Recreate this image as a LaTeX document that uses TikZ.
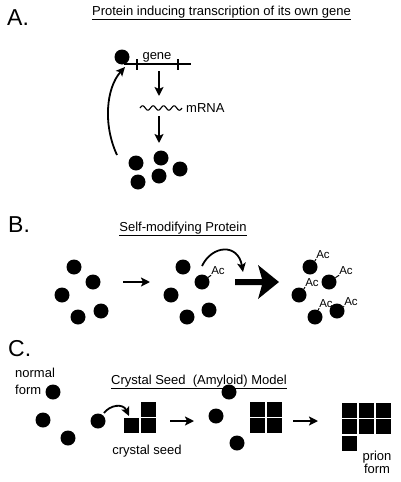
\documentclass[tikz,border=0pt]{standalone}
\usepackage{fontspec}
\setmainfont{Liberation Sans}
\usetikzlibrary{arrows.meta}
\begin{document}
\begin{tikzpicture}[x=1pt,y=-1pt,
 dot/.style={circle,fill=black,inner sep=0pt,minimum size=15pt},
 sq/.style={rectangle,fill=black,inner sep=0pt,minimum size=15pt},
 txt/.style={inner sep=0pt,font=\fontsize{13}{15}\selectfont},
 big/.style={inner sep=0pt,font=\fontsize{23}{26}\selectfont},
 ac/.style={inner sep=0pt,font=\fontsize{11.5}{13}\selectfont},
 arr/.style={-{Stealth[length=9pt,width=9pt,inset=2pt]},line width=2pt},
 carr/.style={-{Stealth[length=9pt,width=8.5pt,inset=2pt]},line width=1.8pt},
 bond/.style={line width=1pt},
 tick/.style={line width=1.8pt}]
\useasboundingbox[fill=white] (0,0) rectangle (400,482);

% ---------- A ----------
\node[big,anchor=base west] (la) at (7,25) {A.};
\node[txt,anchor=base] (ta) at (221.5,15) {\underline{Protein inducing transcription of its own gene}};
\node[dot] (pa) at (122,57) {};
\coordinate (gs) at (124,64);
\coordinate (ge) at (191,64);
\draw[tick] (gs) -- (ge);
\draw[tick] (137,59) coordinate (t1a) -- (137,70) coordinate (t1b);
\draw[tick] (178,59) coordinate (t2a) -- (178,70) coordinate (t2b);
\node[txt,anchor=base] (gene) at (157,59) {gene};
\coordinate (a1s) at (159,71);
\coordinate (a1e) at (159,96);
\draw[arr] (a1s) -- (a1e);
\draw[line width=1.1pt] plot[domain=0:42,samples=100,smooth] ({140+\x},{108-2.2*sin(\x*360/10.5)});
\node[txt,anchor=base west] (mrna) at (186,112) {mRNA};
\coordinate (a2s) at (159,116);
\coordinate (a2e) at (159,143);
\draw[arr] (a2s) -- (a2e);
\node[dot] (pa1) at (136,163) {};
\node[dot] (pa2) at (161,158) {};
\node[dot] (pa3) at (180,169) {};
\node[dot] (pa4) at (159,176) {};
\node[dot] (pa5) at (138,182) {};
\coordinate (fbs) at (117,155);
\coordinate (fbe) at (125,67);
\draw[carr] (fbs) .. controls (103,125) and (106,88) .. (fbe);

% ---------- B ----------
\node[big,anchor=base west] (lb) at (8,232.5) {B.};
\node[txt,anchor=base] (tb) at (183,231) {\underline{Self-modifying Protein}};
\node[dot] (b11) at (74,267) {};
\node[dot] (b12) at (93,282) {};
\node[dot] (b13) at (62,295) {};
\node[dot] (b14) at (78,317) {};
\node[dot] (b15) at (101,311) {};
\coordinate (ab1s) at (123,282);
\coordinate (ab1e) at (150,282);
\draw[arr] (ab1s) -- (ab1e);
\node[dot] (b21) at (183,267) {};
\node[dot] (b22) at (202,282) {};
\node[dot] (b23) at (171,295) {};
\node[dot] (b24) at (187,317) {};
\node[dot] (b25) at (209,310) {};
\node[ac] (ac2) at (218,271) {Ac};
\draw[bond] (b22) -- (ac2.south west);
\coordinate (cbs) at (202,266);
\coordinate (cbe) at (243,272);
\draw[carr] (cbs) .. controls (212,245) and (238,243) .. (cbe);
\fill (235,279) -- (262,279) -- (258,265) -- (279,282) -- (258,299) -- (262,285) -- (235,285) -- cycle;
\node[dot] (b31) at (310,267) {};
\node[dot] (b32) at (329,282) {};
\node[dot] (b33) at (299,295) {};
\node[dot] (b34) at (315,317) {};
\node[dot] (b35) at (337,311) {};
\node[ac] (ac31) at (323,255) {Ac};
\node[ac] (ac32) at (346,271) {Ac};
\node[ac] (ac33) at (312,283) {Ac};
\node[ac] (ac34) at (326,304) {Ac};
\node[ac] (ac35) at (351,302) {Ac};
\draw[bond] (b31) -- (ac31.south west);
\draw[bond] (b32) -- (ac32.south west);
\draw[bond] (b33) -- (ac33.south west);
\draw[bond] (b34) -- (ac34.south west);
\draw[bond] (b35) -- (ac35.south west);

% ---------- C ----------
\node[big,anchor=base west] (lc) at (8,356) {C.};
\node[txt,anchor=base west] (nf1) at (15,377) {normal};
\node[txt,anchor=base west] (nf2) at (15,394) {form};
\node[txt,anchor=base] (tc) at (199,384) {\underline{Crystal Seed\ \ (Amyloid) Model}};
\node[dot] (c11) at (53,392) {};
\node[dot] (c12) at (43,420) {};
\node[dot] (c13) at (68,438) {};
\node[dot] (c14) at (98,421) {};
\coordinate (ccs) at (104,413);
\coordinate (cce) at (129,416);
\draw[carr] (ccs) .. controls (110,405) and (123,403) .. (cce);
\node[sq] (s1) at (148.5,409.5) {};
\node[sq] (s2) at (131.5,425.5) {};
\node[sq] (s3) at (148.5,425.5) {};
\node[txt,anchor=base] (cs) at (147,454) {crystal seed};
\coordinate (ac1s) at (170,421);
\coordinate (ac1e) at (194,421);
\draw[arr] (ac1s) -- (ac1e);
\node[dot] (c21) at (229,392) {};
\node[dot] (c22) at (216,416) {};
\node[dot] (c23) at (237,443) {};
\node[sq] (q1) at (257,409.5) {};
\node[sq] (q2) at (274,409.5) {};
\node[sq] (q3) at (257,425.5) {};
\node[sq] (q4) at (274,425.5) {};
\coordinate (ac2s) at (293,421);
\coordinate (ac2e) at (318,421);
\draw[arr] (ac2s) -- (ac2e);
\node[sq] (r1) at (349,410) {};
\node[sq] (r2) at (366,410) {};
\node[sq] (r3) at (383,410) {};
\node[sq] (r4) at (349,426.5) {};
\node[sq] (r5) at (366,426.5) {};
\node[sq] (r6) at (383,426.5) {};
\node[sq] (r7) at (349,443) {};
\node[txt,anchor=base] (pf1) at (377,460) {prion};
\node[txt,anchor=base] (pf2) at (377,473) {form};
\end{tikzpicture}
\end{document}
